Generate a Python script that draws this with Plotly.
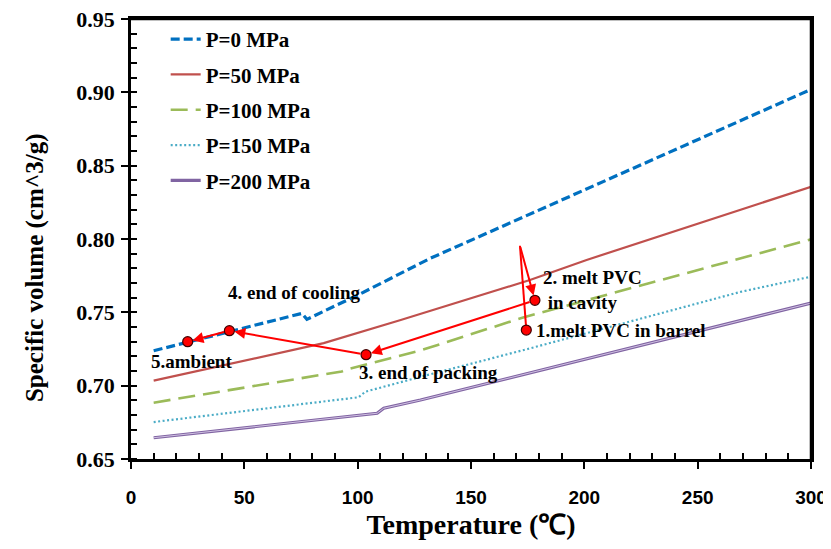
import plotly.graph_objects as go

# ---------------- data ----------------
series_names = ["P=0 MPa", "P=50 MPa", "P=100 MPa", "P=150 MPa", "P=200 MPa"]

temp_p0 = [10, 75.4, 77.6, 101, 132, 300]
vol_p0 = [0.7238, 0.7493, 0.7452, 0.7625, 0.7868, 0.9020]

temp_p50 = [10, 85, 119, 176, 201, 300]
vol_p50 = [0.7034, 0.7290, 0.7448, 0.7720, 0.7857, 0.8356]

temp_p100 = [10, 83.5, 93, 95, 127.7, 173, 269, 300]
vol_p100 = [0.6884, 0.7073, 0.7097, 0.7110, 0.7240, 0.7465, 0.7868, 0.7998]

temp_p150 = [10, 100.4, 103.4, 127.7, 175, 269, 300]
vol_p150 = [0.6752, 0.6921, 0.6959, 0.7060, 0.7250, 0.7640, 0.7743]

temp_p200 = [10, 108.6, 111.5, 127.7, 300]
vol_p200 = [0.6645, 0.6812, 0.6846, 0.6902, 0.7563]

# process states (red markers)
state_labels = ["1.melt PVC in barrel", "2. melt PVC<br> in cavity", "3. end of packing",
                "4. end of cooling", "5.ambient"]
state_temp = [174.4, 178.2, 103.7, 43.4, 25.0]
state_vol = [0.7379, 0.7582, 0.7211, 0.7375, 0.7300]
apex_temp = 171.6
apex_vol = 0.7954

# label anchor positions (data coords)
label_temp = [177.6, 180.7, 131.2, 72.0, 26.7]
label_vol = [0.7373, 0.7652, 0.7093, 0.7638, 0.7168]
label_xanchor = ["left", "left", "center", "center", "center"]

x_ticks = [0, 50, 100, 150, 200, 250, 300]
x_minor = [10, 20, 30, 40, 60, 70, 80, 90, 110, 120, 130, 140, 160, 170, 180, 190,
           210, 220, 230, 240, 260, 270, 280, 290]
y_ticks = [0.65, 0.70, 0.75, 0.80, 0.85, 0.90, 0.95]
y_ticktext = ["0.65", "0.70", "0.75", "0.80", "0.85", "0.90", "0.95"]

# ---------------- figure ----------------
fig = go.Figure()

styles = [
    dict(color="#0070C0", width=3.2, dash="9px,4px"),
    dict(color="#C0504D", width=2.2, dash="solid"),
    dict(color="#9BBB59", width=2.6, dash="17px,8px"),
    dict(color="#4BACC6", width=2.2, dash="2px,2.5px"),
    dict(color="#8064A2", width=3.2, dash="solid"),
]
xs = [temp_p0, temp_p50, temp_p100, temp_p150, temp_p200]
ys = [vol_p0, vol_p50, vol_p100, vol_p150, vol_p200]

for i in range(5):
    fig.add_trace(go.Scatter(x=xs[i], y=ys[i], mode="lines", name=series_names[i],
                             line=styles[i], legendgroup=f"g{i}"))
# inner light line for the compound purple line
fig.add_trace(go.Scatter(x=temp_p200, y=vol_p200, mode="lines", showlegend=False,
                         line=dict(color="#D9CCEA", width=0.9), hoverinfo="skip"))

# connector from state 1 up to the apex (no arrowhead)
fig.add_trace(go.Scatter(x=[state_temp[0], apex_temp], y=[state_vol[0], apex_vol],
                         mode="lines", line=dict(color="#FF0000", width=2),
                         showlegend=False, hoverinfo="skip"))

# arrows
arrow_common = dict(xref="x", yref="y", axref="x", ayref="y", showarrow=True,
                    arrowhead=2, arrowsize=1.1, arrowwidth=2, arrowcolor="#FF0000",
                    standoff=5, text="")
fig.add_annotation(x=state_temp[1], y=state_vol[1], ax=apex_temp, ay=apex_vol, **arrow_common)
for i in range(1, 4):
    fig.add_annotation(x=state_temp[i + 1], y=state_vol[i + 1],
                       ax=state_temp[i], ay=state_vol[i], startstandoff=4, **arrow_common)

# markers
fig.add_trace(go.Scatter(x=state_temp, y=state_vol, mode="markers", showlegend=False,
                         marker=dict(color="#FF0000", size=10,
                                     line=dict(color="#400000", width=1.2)),
                         hoverinfo="skip"))

# labels
for i in range(5):
    fig.add_annotation(x=label_temp[i], y=label_vol[i], text=f"<b>{state_labels[i]}</b>",
                       showarrow=False, xanchor=label_xanchor[i], yanchor="middle",
                       align="left",
                       font=dict(family="Liberation Serif", size=19, color="black"))

# y-axis title as rotated annotation
fig.add_annotation(text="<b>Specific volume (cm^3/g)</b>", xref="paper", yref="paper",
                   x=0, y=0.434, xshift=-96, textangle=-90, showarrow=False,
                   xanchor="center", yanchor="middle",
                   font=dict(family="Liberation Serif", size=25, color="black"))

# frame lines (top and right)
fig.add_shape(type="line", xref="x domain", yref="y domain", x0=0, x1=1, y0=1, y1=1,
              line=dict(color="black", width=2.5))
fig.add_shape(type="line", xref="x domain", yref="y domain", x0=1, x1=1, y0=0, y1=1,
              line=dict(color="black", width=2.5))

fig.update_layout(
    width=823, height=541,
    margin=dict(l=123, r=20, t=11, b=90),
    paper_bgcolor="white", plot_bgcolor="white",
    showlegend=True,
    legend=dict(x=0.051, y=1.0, xanchor="left", yanchor="top",
                bgcolor="rgba(0,0,0,0)", tracegroupgap=5,
                font=dict(family="Liberation Serif", size=21, color="black", weight="bold"),
                itemwidth=30),
    xaxis=dict(range=[0, 300], tickvals=x_ticks, ticks="outside", ticklen=7, tickwidth=2,
               tickcolor="black", showline=True, linecolor="black", linewidth=2.5,
               mirror=True, showgrid=False, zeroline=False, automargin=False,
               ticklabelstandoff=12, ticklabeloverflow="allow",
               tickfont=dict(family="Liberation Sans", size=19, color="black", weight="bold"),
               minor=dict(tickvals=x_minor, ticks="inside", ticklen=6,
                          tickwidth=2, tickcolor="black", showgrid=False),
               title=dict(text="<b>Temperature (℃)</b>", standoff=8,
                          font=dict(family="Liberation Serif", size=28, color="black"))),
    yaxis=dict(range=[0.65, 0.95], tickvals=y_ticks, ticktext=y_ticktext, ticks="outside",
               ticklen=7, tickwidth=2, tickcolor="black", showline=True, linecolor="black",
               linewidth=2.5, mirror=True, showgrid=False, zeroline=False, automargin=False,
               ticklabelstandoff=2, ticklabeloverflow="allow",
               tickfont=dict(family="Liberation Serif", size=22, color="black", weight="bold"),
               minor=dict(dtick=0.01, tick0=0.65, ticks="inside", ticklen=6,
                          tickwidth=2, tickcolor="black", showgrid=False)),
)

fig.write_html("out.html")
